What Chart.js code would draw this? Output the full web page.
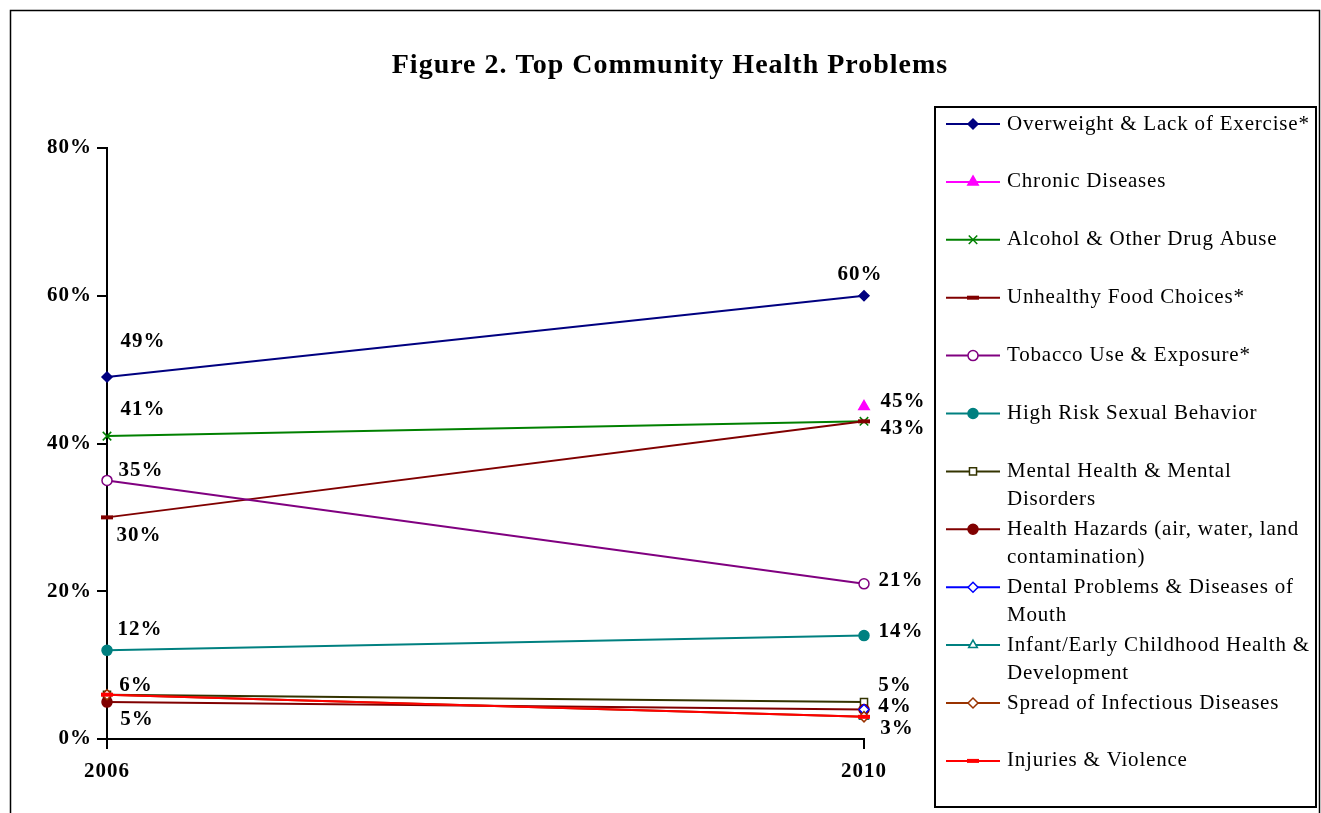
<!DOCTYPE html>
<html>
<head>
<meta charset="utf-8">
<title>Top Community Health Problems</title>
<script src="https://cdn.jsdelivr.net/npm/chart.js@4.4.1/dist/chart.umd.min.js"></script>
<style>
  html, body { margin: 0; padding: 0; background: #fff; }
</style>
</head>
<body>
<canvas id="healthChart" width="1321" height="813"></canvas>
<script>
// ---- Data ----
const years = ['2006', '2010'];
const yTicks = [0, 20, 40, 60, 80];

const seriesNames = [
    'Overweight & Lack of Exercise*',
    'Chronic Diseases',
    'Alcohol & Other Drug Abuse',
    'Unhealthy Food Choices*',
    'Tobacco Use & Exposure*',
    'High Risk Sexual Behavior',
    'Mental Health & Mental\nDisorders',
    'Health Hazards (air, water, land\ncontamination)',
    'Dental Problems & Diseases of\nMouth',
    'Infant/Early Childhood Health &\nDevelopment',
    'Spread of Infectious Diseases',
    'Injuries & Violence'
];

const overweight = [49, 60];
const chronic = [null, 45];
const alcohol = [41, 43];
const foodChoices = [30, 43];
const tobacco = [35, 21];
const sexualBehavior = [12, 14];
const mentalHealth = [6, 5];
const healthHazards = [5, 4];
const dental = [null, 4];
const infantHealth = [null, 3];
const infectious = [6, 3];
const injuries = [6, 3];

const seriesValues = [overweight, chronic, alcohol, foodChoices, tobacco, sexualBehavior,
    mentalHealth, healthHazards, dental, infantHealth, infectious, injuries];

// ---- Styles (colour, marker, filled marker) ----
const styles = [
    { color: '#000080', point: 'rectRot',  filled: true,  r: 5 },
    { color: '#FF00FF', point: 'triangle', filled: true,  r: 6 },
    { color: '#008000', point: 'crossRot', filled: false, r: 6 },
    { color: '#800000', point: 'line',     filled: true,  r: 6, bw: 4 },
    { color: '#800080', point: 'circle',   filled: false, r: 5 },
    { color: '#008080', point: 'circle',   filled: true,  r: 5 },
    { color: '#333300', point: 'rect',     filled: false, r: 5 },
    { color: '#800000', point: 'circle',   filled: true,  r: 5 },
    { color: '#0000FF', point: 'rectRot',  filled: false, r: 5 },
    { color: '#008080', point: 'triangle', filled: false, r: 5 },
    { color: '#993300', point: 'rectRot',  filled: false, r: 5 },
    { color: '#FF0000', point: 'line',     filled: true,  r: 6, bw: 4 }
];

// value labels: [series index, point index, dx, dy]
const valueLabels = [
    [0, 0, 36, -35], [2, 0, 36, -27], [4, 0, 34, -10], [3, 0, 32, 18],
    [5, 0, 33, -21], [6, 0, 29, -9], [7, 0, 30, 18],
    [0, 1, -4, -21], [1, 1, 39, -5], [2, 1, 39, 7], [4, 1, 37, -3],
    [5, 1, 37, -4], [6, 1, 31, -16], [7, 1, 31, -3], [11, 1, 33, 12]
];

const FONT = "'Liberation Serif', 'Times New Roman', serif";

const datasets = seriesValues.map((vals, i) => {
    const s = styles[i];
    return {
        label: seriesNames[i].replace('\n', ' '),
        data: vals,
        borderColor: s.color,
        borderWidth: 2,
        pointStyle: s.point,
        pointRadius: s.r,
        pointHoverRadius: s.r,
        pointBorderColor: s.color,
        pointBackgroundColor: s.filled ? s.color : '#fff',
        pointBorderWidth: s.bw || 1.5,
        tension: 0,
        spanGaps: false,
        order: seriesValues.length - i   // later series drawn on top
    };
});

// ---- Plugins ----
const frameAndTitle = {
    id: 'frameAndTitle',
    beforeDraw(chart) {
        const ctx = chart.ctx;
        // spaced-out glyphs for all chart text
        ctx.letterSpacing = '1px';
        ctx.save();
        ctx.fillStyle = '#fff';
        ctx.fillRect(0, 0, chart.width, chart.height);
        ctx.strokeStyle = '#000';
        ctx.lineWidth = 1.5;
        ctx.strokeRect(10.5, 10.5, chart.width - 12, chart.height + 40);
        ctx.fillStyle = '#000';
        ctx.font = 'bold 28px ' + FONT;
        ctx.textAlign = 'center';
        ctx.textBaseline = 'middle';
        ctx.fillText('Figure 2. Top Community Health Problems', 670, 66);
        ctx.restore();
    }
};

const pointValues = {
    id: 'pointValues',
    afterDatasetsDraw(chart) {
        const ctx = chart.ctx;
        ctx.save();
        ctx.fillStyle = '#000';
        ctx.font = 'bold 21px ' + FONT;
        ctx.textAlign = 'center';
        ctx.textBaseline = 'middle';
        valueLabels.forEach(([si, pi, dx, dy]) => {
            const pt = chart.getDatasetMeta(si).data[pi];
            const v = seriesValues[si][pi];
            if (!pt || v == null) return;
            ctx.fillText(v + '%', pt.x + dx, pt.y + dy);
        });
        ctx.restore();
    }
};

const boxLegend = {
    id: 'boxLegend',
    afterDraw(chart) {
        const ctx = chart.ctx;
        const box = { x: 935, y: 107, w: 381, h: 700 };
        const rowTop = 124, rowStep = 57.9, lineGap = 28;
        ctx.save();
        ctx.strokeStyle = '#000';
        ctx.lineWidth = 2;
        ctx.strokeRect(box.x, box.y, box.w, box.h);
        ctx.font = '21px ' + FONT;
        ctx.letterSpacing = '0.8px';
        ctx.textBaseline = 'middle';
        ctx.textAlign = 'left';
        seriesNames.forEach((name, i) => {
            const s = styles[i];
            const y = rowTop + i * rowStep;
            ctx.strokeStyle = s.color;
            ctx.lineWidth = 2;
            ctx.beginPath();
            ctx.moveTo(946, y);
            ctx.lineTo(1000, y);
            ctx.stroke();
            ctx.fillStyle = s.filled ? s.color : '#fff';
            ctx.lineWidth = s.bw || 1.5;
            Chart.helpers.drawPoint(ctx, { pointStyle: s.point, radius: s.r, rotation: 0, borderWidth: s.bw || 1.5 }, 973, y);
            ctx.fillStyle = '#000';
            name.split('\n').forEach((line, k) => ctx.fillText(line, 1007, y + k * lineGap));
        });
        ctx.restore();
    }
};

// ---- Chart ----
new Chart(document.getElementById('healthChart'), {
    type: 'line',
    data: { labels: years, datasets },
    plugins: [frameAndTitle, pointValues, boxLegend],
    options: {
        responsive: false,
        animation: false,
        events: [],
        layout: { padding: { top: 148, right: 457, bottom: 0, left: 0 } },
        plugins: { legend: { display: false }, title: { display: false }, tooltip: { enabled: false } },
        scales: {
            x: {
                offset: false,
                afterFit(scale) { scale.height = 74; },
                border: { display: true, color: '#000', width: 2 },
                grid: { drawOnChartArea: false, drawTicks: true, tickLength: 10, color: '#000', lineWidth: 2 },
                ticks: { color: '#000', padding: 10, font: { family: FONT, size: 21, weight: 'bold' }, maxRotation: 0 }
            },
            y: {
                min: 0,
                max: 80,
                afterFit(scale) { scale.width = 107; },
                afterBuildTicks(scale) { scale.ticks = yTicks.map(v => ({ value: v })); },
                border: { display: true, color: '#000', width: 2 },
                grid: { drawOnChartArea: false, drawTicks: true, tickLength: 10, color: '#000', lineWidth: 2 },
                ticks: { color: '#000', padding: 5, font: { family: FONT, size: 21, weight: 'bold' }, callback: v => v + '%' }
            }
        }
    }
});
</script>
</body>
</html>
